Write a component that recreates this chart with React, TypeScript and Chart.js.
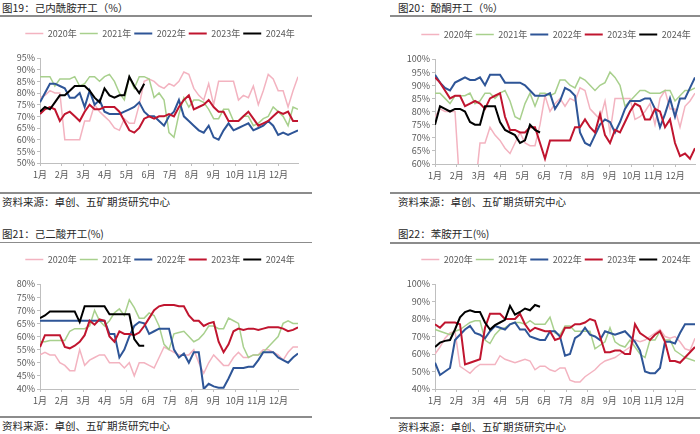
import React, { useEffect, useRef } from "react";
import { Chart, registerables } from "chart.js";

Chart.register(...registerables);

const MONTHS = ["1月", "2月", "3月", "4月", "5月", "6月", "7月", "8月", "9月", "10月", "11月", "12月"];
const YEARS = ["2020年", "2021年", "2022年", "2023年", "2024年"];
const COLORS = ["#F3B3C0", "#A8D08D", "#2E5597", "#C0152F", "#000000"];
const WIDTHS = [1.5, 1.5, 2, 2, 2];

// 图19 己内酰胺开工 (weekly)
const cpl2020 = [78,79,81,80,80,60,60,60,60,68,68,75,72,70,68,65,64,69,67,67,75,85,86,85,83,82,84,83,85,89,88,82,79,77,84,75,85,85,85,85,77,79,78,83,75,81,88,86,81,81,74,81,87];
const cpl2021 = [87,87,87,83,86,86,86,87,83,84,87,87,85,87,88,85,80,77,87,82,87,87,86,78,80,77,63,61,71,78,74,77,77,76,73,69,69,73,73,68,68,70,70,66,67,69,70,74,72,70,66,74,73];
const cpl2022 = [76,80,84,84,83,82,78,78,80,74,81,75,77,72,71,71,71,72,73,74,76,72,70,70,68,66,70,72,77,70,68,66,64,63,66,61,60,64,67,64,65,66,67,64,65,66,68,66,62,63,62,63,64];
const cpl2023 = [71,73,74,73,68,71,72,70,68,72,75,73,73,74,74,74,72,68,64,63,65,69,70,69,70,70,71,70,74,77,79,73,74,75,77,74,72,72,68,68,68,70,72,69,66,67,68,70,72,71,72,68,68];
const cpl2024 = [72,74,73,76,79,79,81,83,83,83,81,78,76,82,79,78,79,79,87,83,80,84];

// 图20 酚酮开工
const pk2020 = [78,81,80,80,80,50,50,50,50,68,68,74,71,69,66,64,68,72,68,67,67,75,86,80,83,85,82,85,84,89,88,81,79,77,84,72,85,85,85,85,77,78,80,83,75,85,88,81,81,74,82,84,87];
const pk2021 = [87,87,85,83,86,86,86,87,83,84,87,87,85,87,88,84,78,77,83,87,82,87,87,86,87,92,92,90,89,93,92,90,88,90,91,95,93,90,82,84,86,88,88,87,87,87,88,88,84,86,88,88,89];
const pk2022 = [94,91,89,88,91,92,93,92,92,93,90,94,94,94,91,91,91,91,90,88,86,86,86,87,81,84,89,88,86,72,68,67,71,75,77,76,72,76,81,84,84,84,85,85,81,74,79,85,78,85,85,89,93];
const pk2023 = [93,91,88,85,86,86,82,83,84,83,81,85,86,87,78,73,73,72,72,74,74,68,62,69,69,69,69,69,74,74,77,74,72,79,71,68,73,72,76,80,83,82,77,77,81,80,74,77,68,63,64,62,66];
const pk2024 = [75,82,81,80,81,81,80,76,75,75,82,82,82,76,73,72,71,68,69,75,73,72];

// 图21 己二酸开工
const ad2020 = [53,54,53,53,50,49,47,47,55,49,51,52,53,53,50,50,50,48,50,45,50,50,49,48,52,56,55,54,53,53,53,55,50,46,50,53,51,49,49,52,54,52,52,53,53,55,55,54,53,51,54,56,56];
const ad2021 = [58,58,58.5,58.5,58.5,58.5,62,63,63,63,64,70,66,64,66,69,70.5,68,74,71,67,67,69,68,64,57,55,61,61.5,62,60,58,59,61,64,64,63,63,67,66,65,56,52,53,53,54,56,58,60,65,66,65,65];
const ad2022 = [66,66,66,66,66,66,66,66,66,66,66,66,66,66,61,61,52,55,60,64,65.5,65,61,62,63,63,63,55,52,53.5,50,54,54,40,42,41,40.5,40.5,44,48,48,48,48.5,48.5,51,54,54,54,52,51,50,52,53.5];
const ad2023 = [56,60.5,60.5,60.5,60.5,56,55.5,56.5,58,60.5,66,64.5,66.5,66,60,58,62,61,61,60.5,61.5,64,67,70,71.5,72,72,72,71.5,71.5,68,66,66,64,65,65.5,58,54,57,62,63,62.5,63,63,62.5,63,63.5,63.5,63.5,63,62,62.5,63.5];
const ad2024 = [67,68,69.5,69.5,69.5,69.5,69.5,69.5,65.5,71.5,71.5,71.5,71.5,71.5,68.5,68.5,68.5,68.5,68.5,59,56.5,56.5];

// 图22 苯胺开工
const an2020 = [60,64,69,72,73,53,51,49,52,54,54,54,54,59,57,56,55,56,57,56,51,53,53,51,50,52,52,45,44,44,47,49,51,54,56,57,58,60,62,64,68,67,68,70,72,74,70,69,70,67,63,62,69];
const an2021 = [74,73,72,71,73,74,76,78,79,79,68,66,71,74,75,77,78,78,77,79,77,77,77,81,72,71,76,76,73,73,73,73,63,65,67,75,67,65,64,68,64,60,58,68,68,73,68,68,62,60,58,57,56];
const an2022 = [55,48,50,52,68,71,74,76,72,71,69,73,76,75,74,77,78,74,74,70,69,68,68,73,73,70,59,60,69,71,75,71,70,68,73,72,71,72,73,70,67,62,50,49,49,52,67,67,66,72,77,77,77];
const an2023 = [77,75,78,78,78,77,54,55,56,57,75,83,83,83,80,80,80,83,77,73,75,74,73,73,68,69,75,75,77,77,78,80,79,70,61,61,62,62,60,60,77,72,70,68,71,73,67,56,56,55,58,61,64];
const an2024 = [64,66.5,67.5,68,74,81,84,85,84,84,78,74,76.5,78,79.5,87.5,82.5,84,86,85,88,87];

const TITLES = ["图19：己内酰胺开工（%）", "图20：酚酮开工（%）", "图21：己二酸开工(%)", "图22：苯胺开工(%)"];
const SOURCE = "资料来源：卓创、五矿期货研究中心";

const FONT = '"Noto Sans CJK SC", "Noto Sans", sans-serif';
const WEEKS_PER_MONTH = 4.37;
const TEXT = "#595959";
const AXIS = "#bfbfbf";

type PanelProps = {
  left: number;
  top: number;
  width: number;
  padRight: number;
  series: number[][];
  yMin: number;
  yMax: number;
  yStep: number;
};

function Panel({ left, top, width, padRight, series, yMin, yMax, yStep }: PanelProps) {
  const ref = useRef<HTMLCanvasElement | null>(null);
  useEffect(() => {
    const spacer = {
      id: "legendSpacer",
      beforeLayout(chart: any) {
        const lg = chart.legend;
        if (lg && !lg.__patched) {
          const fit = lg.fit;
          lg.fit = function () {
            fit.call(lg);
            lg.height = 32;
          };
          const draw = lg.draw;
          lg.draw = function (...args: any[]) {
            const ctx = chart.ctx;
            ctx.save();
            ctx.translate(11, 0);
            draw.apply(lg, args);
            ctx.restore();
          };
          lg.__patched = true;
        }
      },
    };
    const chart = new Chart(ref.current as HTMLCanvasElement, {
      type: "line",
      data: {
        datasets: series.map((s, i) => ({
          label: YEARS[i],
          data: s.map((v, w) => ({ x: w, y: v })),
          borderColor: COLORS[i],
          backgroundColor: COLORS[i],
          borderWidth: WIDTHS[i],
          pointRadius: 0,
          tension: 0,
          order: 5 - i,
        })),
      },
      options: {
        responsive: false,
        animation: false,
        layout: { padding: { left: 0, right: padRight, top: 0, bottom: 0 } },
        plugins: {
          legend: {
            position: "top",
            labels: {
              usePointStyle: true,
              pointStyle: "line",
              pointStyleWidth: 18,
              boxWidth: 18,
              padding: 3,
              color: TEXT,
              font: { family: FONT, size: 9 },
              sort: (a: any, b: any) => a.datasetIndex - b.datasetIndex,
            },
          },
          tooltip: { enabled: false },
        },
        scales: {
          x: {
            type: "linear",
            min: 0,
            max: 52,
            afterBuildTicks: (s: any) => {
              s.ticks = MONTHS.map((_, i) => ({ value: i * WEEKS_PER_MONTH }));
            },
            afterFit: (s: any) => {
              s.height = 25;
            },
            ticks: {
              callback: (_v: any, i: number) => MONTHS[i],
              autoSkip: false,
              maxRotation: 0,
              color: TEXT,
              font: { family: FONT, size: 9 },
              padding: 3,
            },
            grid: { display: true, drawOnChartArea: false, drawTicks: true, tickLength: 3, color: AXIS },
            border: { color: AXIS },
          },
          y: {
            min: yMin,
            max: yMax,
            afterFit: (s: any) => {
              s.width = 40;
            },
            ticks: {
              stepSize: yStep,
              autoSkip: false,
              callback: (v: any) => v + "%",
              color: TEXT,
              font: { family: FONT, size: 9 },
              padding: 2,
            },
            grid: { display: true, drawOnChartArea: false, drawTicks: true, tickLength: 3, color: AXIS },
            border: { color: AXIS },
          },
        },
      },
      plugins: [spacer],
    } as any);
    return () => chart.destroy();
  }, []);
  return (
    <canvas
      ref={ref}
      width={width}
      height={162}
      style={{ position: "absolute", left, top, width, height: 162 }}
    />
  );
}

function Text({ x, y, text, size }: { x: number; y: number; text: string; size: number }) {
  return (
    <div
      style={{
        position: "absolute",
        left: x,
        top: y - 8,
        height: 16,
        lineHeight: "16px",
        fontSize: size,
        fontFamily: FONT,
        color: "#262626",
        whiteSpace: "nowrap",
      }}
    >
      {text}
    </div>
  );
}

function Rule({ x1, x2, y }: { x1: number; x2: number; y: number }) {
  return (
    <div style={{ position: "absolute", left: x1, top: y - 1, width: x2 - x1, height: 1.5, background: "#8c8c8c" }} />
  );
}

export default function App() {
  return (
    <div
      style={{
        position: "absolute",
        left: 0,
        top: 0,
        width: 700,
        height: 434,
        background: "#ffffff",
        overflow: "hidden",
      }}
    >
      <Text x={2} y={7.5} text={TITLES[0]} size={10.5} />
      <Rule x1={0} x2={312} y={16} />
      <Panel left={0} top={26} width={310} padRight={12}
        series={[cpl2020, cpl2021, cpl2022, cpl2023, cpl2024]} yMin={50} yMax={95} yStep={5} />
      <Rule x1={0} x2={312} y={193} />
      <Text x={2} y={202} text={SOURCE} size={10.5} />

      <Text x={398} y={7.5} text={TITLES[1]} size={10.5} />
      <Rule x1={390} x2={700} y={16} />
      <Panel left={395} top={27} width={305} padRight={5}
        series={[pk2020, pk2021, pk2022, pk2023, pk2024]} yMin={60} yMax={100} yStep={5} />
      <Rule x1={390} x2={700} y={193} />
      <Text x={398} y={202} text={SOURCE} size={10.5} />

      <Text x={2} y={233.5} text={TITLES[2]} size={10.5} />
      <Rule x1={0} x2={312} y={242.5} />
      <Panel left={0} top={252} width={310} padRight={12}
        series={[ad2020, ad2021, ad2022, ad2023, ad2024]} yMin={40} yMax={80} yStep={5} />
      <Rule x1={0} x2={312} y={417} />
      <Text x={2} y={426} text={SOURCE} size={10.5} />

      <Text x={398} y={233.5} text={TITLES[3]} size={10.5} />
      <Rule x1={390} x2={700} y={243} />
      <Panel left={395} top={252} width={305} padRight={5}
        series={[an2020, an2021, an2022, an2023, an2024]} yMin={40} yMax={100} yStep={10} />
      <Rule x1={390} x2={700} y={418} />
      <Text x={398} y={427} text={SOURCE} size={10.5} />
    </div>
  );
}
